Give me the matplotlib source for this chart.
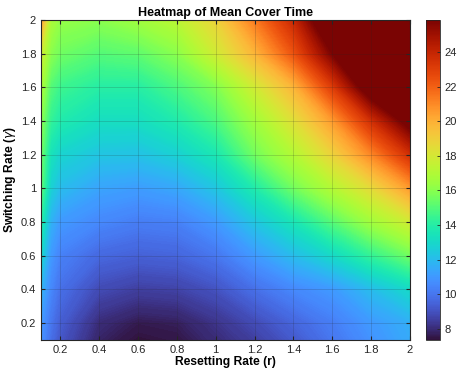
import numpy as np
import matplotlib
matplotlib.use("Agg")
import matplotlib.pyplot as plt
from matplotlib.colors import Normalize
from matplotlib.cm import ScalarMappable

plt.rcParams['font.family'] = ['Liberation Sans', 'DejaVu Sans']

# grid (resetting rate r along x, switching rate gamma along y)
r_vals = [0.1, 0.15, 0.2, 0.4, 0.6, 0.8, 1.0, 1.2, 1.4, 1.6, 1.8, 2.0]
gamma_vals = [0.1, 0.2, 0.4, 0.6, 0.8, 1.0, 1.2, 1.4, 1.6, 1.8, 2.0]

# mean cover time, one row per gamma value (bottom to top)
# values in the top-right corner are past the colour limit (flat dark red)
T_g01 = [10.8, 9.8, 9.1, 7.8, 7.35, 7.5, 8.0, 8.5, 9.2, 10.0, 10.8, 11.5]
T_g02 = [11.0, 10.0, 9.3, 8.0, 7.6, 7.7, 8.2, 8.8, 9.5, 10.2, 11.0, 11.6]
T_g04 = [11.8, 10.5, 9.8, 8.8, 8.5, 8.6, 9.0, 9.8, 10.5, 11.0, 12.0, 13.0]
T_g06 = [13.0, 11.0, 10.3, 9.6, 9.4, 9.5, 10.0, 11.0, 12.0, 13.0, 14.3, 15.5]
T_g08 = [14.0, 11.7, 11.0, 10.5, 10.2, 10.3, 11.0, 12.3, 13.5, 15.0, 16.5, 17.8]
T_g10 = [15.2, 12.7, 12.0, 11.3, 11.1, 11.4, 12.3, 13.8, 15.5, 17.0, 18.5, 20.5]
T_g12 = [15.5, 13.4, 12.8, 12.3, 12.2, 12.7, 13.6, 15.5, 17.0, 18.8, 21.0, 23.5]
T_g14 = [16.0, 14.3, 13.8, 13.2, 13.2, 13.8, 14.8, 16.5, 18.3, 20.5, 23.5, 26.5]
T_g16 = [16.8, 15.0, 14.5, 14.0, 14.0, 14.8, 15.8, 17.8, 19.8, 23.0, 27.0, 60.0]
T_g18 = [17.8, 16.0, 15.5, 15.0, 15.2, 16.0, 17.8, 19.8, 22.3, 25.8, 60.0, 60.0]
T_g20 = [20.5, 16.8, 16.2, 16.0, 16.5, 17.2, 18.8, 21.3, 23.8, 28.0, 60.0, 60.0]

T = np.array([T_g01, T_g02, T_g04, T_g06, T_g08, T_g10,
              T_g12, T_g14, T_g16, T_g18, T_g20])
cmin, cmax = 7.35, 25.85

fig = plt.figure(figsize=(4.57, 3.73), dpi=100)
ax = fig.add_axes([0.0897, 0.0885, 0.807, 0.858])
R, G = np.meshgrid(r_vals, gamma_vals)
norm = Normalize(cmin, cmax)
levels = np.linspace(cmin, cmax, 300)
ax.contourf(R, G, T, levels=levels, cmap='turbo', norm=norm, extend='both',
            antialiased=False)

ax.set_xlim(0.1, 2)
ax.set_ylim(0.1, 2)
ax.set_xticks(np.arange(0.2, 2.01, 0.2))
ax.set_yticks(np.arange(0.2, 2.01, 0.2))
ax.set_xticklabels(['0.2', '0.4', '0.6', '0.8', '1', '1.2', '1.4', '1.6', '1.8', '2'])
ax.set_yticklabels(['0.2', '0.4', '0.6', '0.8', '1', '1.2', '1.4', '1.6', '1.8', '2'])
ax.tick_params(direction='in', top=True, right=True, length=3, width=0.8,
               labelsize=8, color='#262626', labelcolor='#262626')
ax.set_axisbelow(False)
ax.grid(True, color='#262626', alpha=0.2, linewidth=0.6)
for s in ax.spines.values():
    s.set_color('#262626')
    s.set_linewidth(0.8)
    s.set_zorder(5)

ax.set_title('Heatmap of Mean Cover Time', fontsize=9, fontweight='bold', pad=3)
ax.set_xlabel('Resetting Rate (r)', fontsize=8.7, fontweight='bold', labelpad=1)
ax.set_ylabel(r'Switching Rate ($\gamma$)', fontsize=8.7, fontweight='bold', labelpad=2)

cax = fig.add_axes([0.932, 0.0885, 0.0306, 0.858])
cb = fig.colorbar(ScalarMappable(norm=norm, cmap='turbo'), cax=cax)
cb.set_ticks([8, 10, 12, 14, 16, 18, 20, 22, 24])
cax.tick_params(direction='in', length=2, width=0.6, labelsize=8, pad=3,
                color='#262626', labelcolor='#262626')
cb.outline.set_linewidth(0.6)
cb.outline.set_edgecolor('#262626')

fig.savefig('out.png', dpi=100)
